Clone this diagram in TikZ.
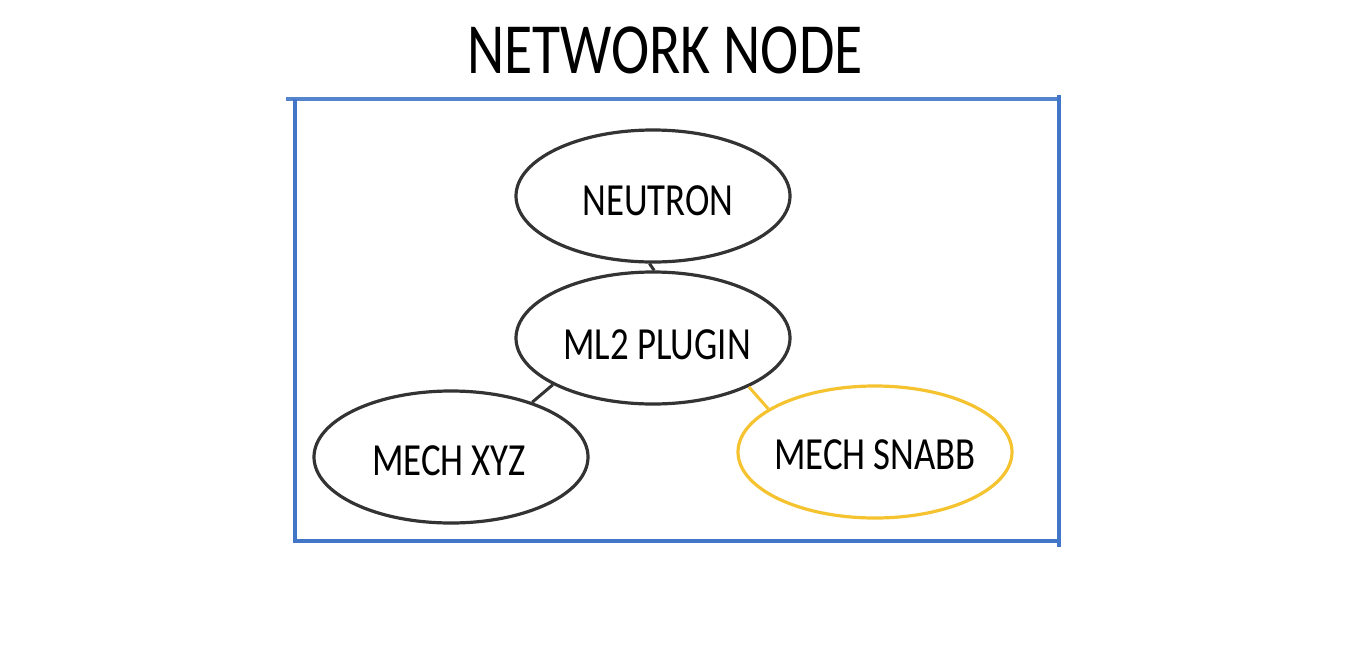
\documentclass[tikz,border=0pt]{standalone}
\usepackage{fontspec}
\usetikzlibrary{shapes.geometric}
\newfontfamily\hand[FakeStretch=0.8]{Carlito}
\definecolor{boxblue}{HTML}{4176C8}
\definecolor{ringgray}{HTML}{333333}
\definecolor{snabb}{HTML}{F5C330}
\begin{document}
\begin{tikzpicture}[x=1pt,y=-1pt,
  blob/.style={draw=ringgray,line width=3.2pt,ellipse,minimum width=274pt,minimum height=132pt,inner sep=0pt},
  blobtext/.style={font=\hand\fontsize{46}{50}\selectfont},
  link/.style={draw=ringgray,line width=3pt},
  frame/.style={draw=boxblue,line width=3.6pt}]
\useasboundingbox (0,0) rectangle (1366,665);
\node[font=\hand\fontsize{72}{80}\selectfont] (title) at (665,50) {NETWORK NODE};
% frame
\coordinate (tl) at (286,99);
\coordinate (tr) at (1060,99);
\coordinate (lt) at (295,99);
\coordinate (lb) at (295,541);
\coordinate (br) at (1060,541);
\coordinate (rt) at (1059,95);
\coordinate (rb) at (1059,547);
\draw[frame,draw=boxblue!90] (tl) -- (tr);
\draw[frame] (lt) -- (lb) -- (br);
\draw[frame] (rt) -- (rb);
% ellipses
\node[blob] (neutron) at (653,196) {};
\node[blobtext] (neutrontext) at (658,201) {NEUTRON};
\node[blob] (ml2) at (653,338) {};
\node[blobtext] (ml2text) at (657,345) {ML2 PLUGIN};
\node[blob] (xyz) at (451,457) {};
\node[blobtext] (xyztext) at (449,461) {MECH XYZ};
\node[blob,draw=snabb] (snabb) at (875,452) {};
\node[blobtext] (snabbtext) at (875,455) {MECH SNABB};
% connectors
\draw[link] (neutron.-93.4) -- (ml2.89);
\draw[link] (ml2.205) -- (xyz.34);
\draw[link,draw=snabb] (ml2.-27) -- (snabb.158);
\end{tikzpicture}
\end{document}
